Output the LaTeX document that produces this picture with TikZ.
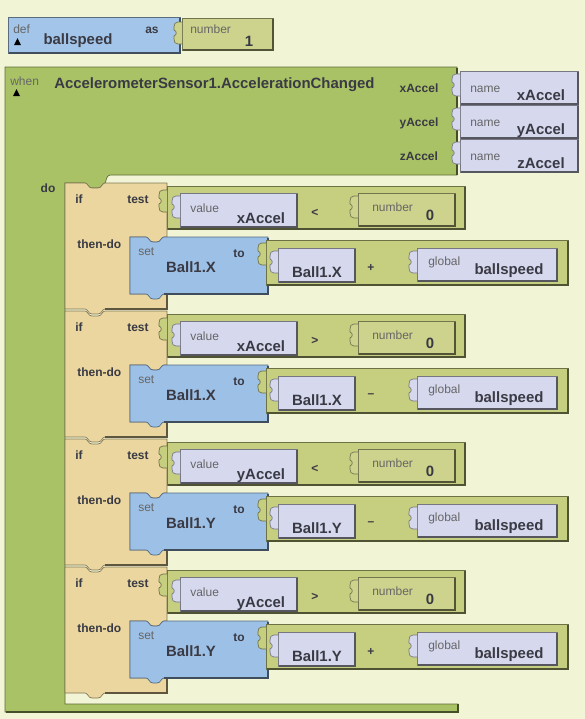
\documentclass[tikz,border=0pt]{standalone}
\usepackage{fontspec}
\setmainfont{Liberation Sans}
\definecolor{bgc}{HTML}{F1F5D6}
\definecolor{evgreen}{HTML}{AAC266}
\definecolor{defblue}{HTML}{A3C5E9}
\definecolor{setblue}{HTML}{9DC0E6}
\definecolor{numolive}{HTML}{CDD38C}
\definecolor{opolive}{HTML}{C6CE80}
\definecolor{lav}{HTML}{D6D8EE}
\definecolor{tanc}{HTML}{EAD69E}
\definecolor{inkc}{HTML}{3A3A44}
\definecolor{greyc}{HTML}{666666}
\tikzset{
  lbl/.style={font=\fontsize{9}{10}\selectfont, text=greyc, inner sep=0pt},
  kw/.style={font=\fontsize{9}{10}\selectfont\bfseries, text=inkc, inner sep=0pt},
  val/.style={font=\fontsize{11.2}{12}\selectfont\bfseries, text=inkc, inner sep=0pt},
  rim/.style={draw=#1!55!black, line width=.5pt},
  shade/.style={draw=#1!40!black, line width=1pt}
}
\newcommand{\pblock}[5]{%
  \filldraw[fill=#1, rim=#1] (#2,#3) rectangle (#4,#5);
  \draw[shade=#1] (#4,#3+1) -- (#4,#5) -- (#2+1,#5);}
\newcommand{\pknob}[3]{%
  \begin{scope}[shift={(#2,#3)}]
    \filldraw[fill=#1, rim=#1]
      (0,0) -- (-4,0) .. controls (-7,0) and (-8,2) .. (-8,5)
      -- (-8,8) .. controls (-5,9) and (-5,13) .. (-8,14)
      -- (-8,17) .. controls (-8,20) and (-7,22) .. (-4,22) -- (0,22);
  \end{scope}}
\begin{document}
\begin{tikzpicture}[x=0.75pt,y=-0.75pt]
\fill[bgc] (0,0) rectangle (585,719);
\useasboundingbox (0,0) rectangle (585,719);

\pblock{defblue}{8}{17}{180}{53}
\pblock{numolive}{182}{18}{273}{50}
\pknob{numolive}{182}{22}
\fill[black] (14,45) -- (21,45) -- (17.5,38) -- cycle;
\node[lbl, anchor=base west] (def) at (13,33) {def};
\node[val, anchor=base] (gname) at (78,44) {ballspeed};
\node[kw, anchor=base] (as) at (152,33) {as};
\node[lbl, anchor=base west] (defnum) at (190,33) {number};
\node[val, anchor=base] (one) at (249,46) {1};

\filldraw[fill=evgreen, rim=evgreen] (5,67) -- (457,67) -- (457,175) -- (110,175)
  .. controls (106,175) and (106,183) .. (105,183) .. controls (102,183) and (102,188) .. (98,188)
  -- (92,188) .. controls (88,188) and (88,183) .. (85,183) -- (65,183) -- (65,704)
  -- (458,704) -- (458,712) -- (5,712) -- cycle;
\draw[shade=evgreen] (457,68) -- (457,175);
\draw[shade=evgreen] (458,704) -- (458,712) -- (6,712);
\fill[black] (13,96) -- (20,96) -- (16.5,89) -- cycle;
\node[lbl, anchor=base west] (when) at (10,85) {when};
\node[val, anchor=base west] (event) at (54,88) {AccelerometerSensor1.AccelerationChanged};
\node[kw, anchor=base] (do) at (48,192) {do};

\foreach \n/\y in {xAccel/71, yAccel/105, zAccel/139} {
  \pblock{lav}{460}{\y}{578}{\y+33}
  \pknob{lav}{460}{\y+3}
  \node[kw, anchor=base] (h\n) at (419,\y+21) {\n};
  \node[lbl, anchor=base west] (name\n) at (470,\y+21) {name};
  \node[val, anchor=base] (p\n) at (541,\y+29) {\n};
}

\foreach \i/\cmp/\var/\prop/\op in {0/{<}/xAccel/X/{+}, 1/{>}/xAccel/X/{--}, 2/{<}/yAccel/Y/{--}, 3/{>}/yAccel/Y/{+}} {
\begin{scope}[shift={(0,128*\i)}]
  \filldraw[fill=tanc, rim=tanc] (65,183) -- (85,183) .. controls (88,183) and (88,188) .. (92,188)
    -- (98,188) .. controls (102,188) and (102,183) .. (105,183) -- (167,183) -- (167,237)
    -- (164,237) .. controls (161,237) and (161,242) .. (157,242) -- (153,242)
    .. controls (149,242) and (149,237) .. (146,237) -- (130,237) -- (130,294) -- (167,294)
    -- (167,309) -- (105,309) .. controls (102,309) and (102,314) .. (98,314) -- (92,314)
    .. controls (88,314) and (88,309) .. (85,309) -- (65,309) -- cycle;
  \draw[shade=tanc] (167,294) -- (167,309) -- (105,309);
  \filldraw[fill=setblue, rim=setblue] (130,237) -- (146,237) .. controls (149,237) and (149,242) .. (153,242)
    -- (157,242) .. controls (161,242) and (161,237) .. (164,237) -- (268,237) -- (268,294)
    -- (164,294) .. controls (161,294) and (161,299) .. (157,299) -- (153,299)
    .. controls (149,299) and (149,294) .. (146,294) -- (130,294) -- cycle;
  \draw[shade=setblue] (268,238) -- (268,294) -- (164,294);
  \pblock{opolive}{167}{186}{465}{229}
  \pknob{opolive}{167}{190}
  \pblock{lav}{180}{193}{297}{227}
  \pknob{lav}{180}{196}
  \pblock{numolive}{358}{193}{455}{226}
  \pknob{numolive}{358}{196}
  \pblock{opolive}{266}{240}{568}{285}
  \pknob{opolive}{266}{243}
  \pblock{lav}{278}{248}{355}{282}
  \pknob{lav}{278}{251}
  \pblock{lav}{417}{248}{557}{281}
  \pknob{lav}{417}{251}
  \node[kw, anchor=base west] (if\i) at (75,203) {if};
  \node[kw, anchor=base west] (test\i) at (127,203) {test};
  \node[kw, anchor=base west] (thendo\i) at (77,248) {then-do};
  \node[lbl, anchor=base west] (set\i) at (138,255) {set};
  \node[val, anchor=base] (prop\i) at (191,272) {Ball1.\prop};
  \node[kw, anchor=base] (to\i) at (239,257) {to};
  \node[lbl, anchor=base west] (value\i) at (190,212) {value};
  \node[val, anchor=base] (var\i) at (261,223) {\var};
  \node[kw] (cmp\i) at (315,213) {\cmp};
  \node[lbl, anchor=base west] (number\i) at (372,211) {number};
  \node[val, anchor=base] (zero\i) at (430,220) {0};
  \node[val, anchor=base] (arg\i) at (317,277) {Ball1.\prop};
  \node[kw] (op\i) at (371,268) {\op};
  \node[lbl, anchor=base west] (global\i) at (428,265) {global};
  \node[val, anchor=base] (speed\i) at (509,274) {ballspeed};
\end{scope}
}
\end{tikzpicture}
\end{document}
